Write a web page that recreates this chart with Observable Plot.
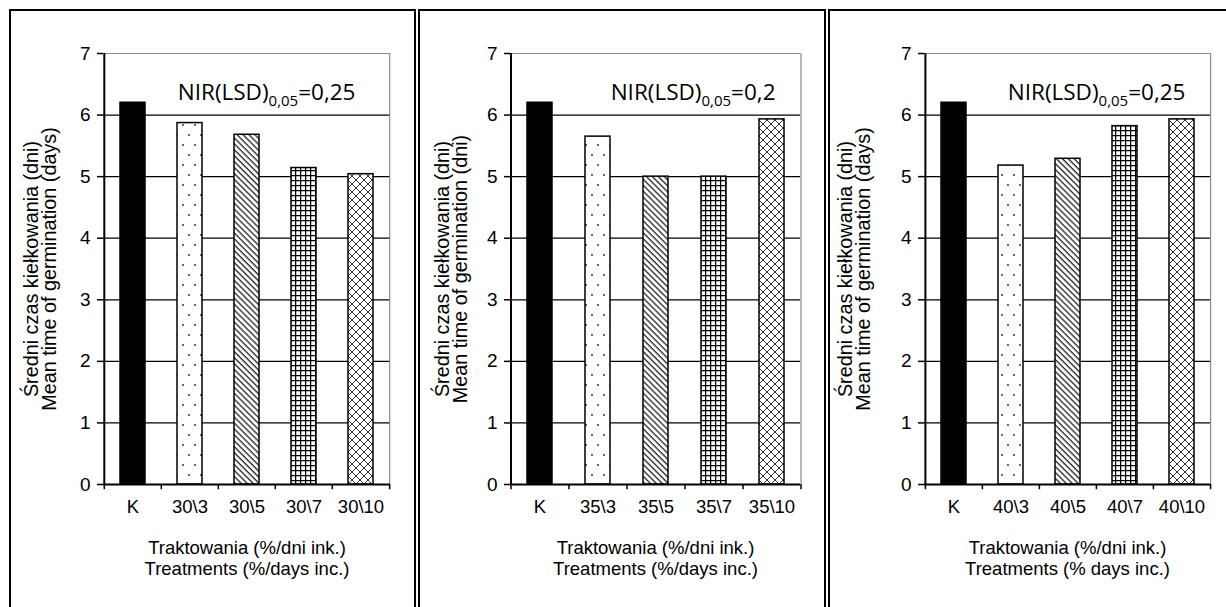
<!DOCTYPE html>
<html><head><meta charset="utf-8">
<script src="https://cdn.jsdelivr.net/npm/d3@7"></script>
<script src="https://cdn.jsdelivr.net/npm/@observablehq/plot@0.6"></script>
<style>
html,body{margin:0;padding:0;background:#fff;}
body{width:1226px;height:607px;overflow:hidden;position:relative;font-family:"Liberation Sans",Arial,sans-serif;}
.box{position:absolute;top:9px;height:640px;border:2px solid #000;box-sizing:border-box;}
.chart{position:absolute;top:0;}
</style></head><body>
<svg width="0" height="0" style="position:absolute">
<defs>
 <pattern id="pDots" width="12" height="20" patternUnits="userSpaceOnUse">
   <rect width="12" height="20" fill="#fff"/>
   <circle cx="3" cy="5" r="0.9" fill="#222"/>
   <circle cx="9" cy="15" r="0.9" fill="#222"/>
 </pattern>
 <pattern id="pDiag" width="4.2" height="4.2" patternUnits="userSpaceOnUse" patternTransform="rotate(-45)">
   <rect width="4.2" height="4.2" fill="#fff"/>
   <line x1="1" y1="0" x2="1" y2="4.2" stroke="#111" stroke-width="1.2"/>
 </pattern>
 <pattern id="pGrid" width="5" height="5" patternUnits="userSpaceOnUse">
   <rect width="5" height="5" fill="#fff"/>
   <path d="M0 0.6H5M0.6 0V5" stroke="#000" stroke-width="1.3"/>
 </pattern>
 <pattern id="pCross" width="8" height="8" patternUnits="userSpaceOnUse">
   <rect width="8" height="8" fill="#fff"/>
   <path d="M0 0L8 8M8 0L0 8" stroke="#333" stroke-width="1"/>
 </pattern>
</defs>
</svg>
<div class="box" style="left:9px;width:407px"></div>
<div class="box" style="left:418px;width:408px"></div>
<div class="box" style="left:828px;width:420px"></div>
<div id="c1" class="chart" style="left:0px"></div>
<div id="c2" class="chart" style="left:415px"></div>
<div id="c3" class="chart" style="left:825px"></div>
<script>
// ---- data ----
const labels1 = ["K", "30\\3", "30\\5", "30\\7", "30\\10"];
const values1 = [6.2, 5.87, 5.68, 5.14, 5.04];
const labels2 = ["K", "35\\3", "35\\5", "35\\7", "35\\10"];
const values2 = [6.2, 5.65, 5.0, 5.0, 5.93];
const labels3 = ["K", "40\\3", "40\\5", "40\\7", "40\\10"];
const values3 = [6.2, 5.18, 5.29, 5.82, 5.93];
const lsd = ["0,25", "0,2", "0,25"];
const yTicks = [0, 1, 2, 3, 4, 5, 6, 7];
const yTitleTop = "Średni czas kiełkowania (dni)";
const yTitleBottom = ["Mean time of germination (days)", "Mean time of germination (dni)", "Mean time of germination (days)"];
const xTitleTop = "Traktowania (%/dni ink.)";
const xTitleBottom = ["Treatments (%/days inc.)", "Treatments (%/days inc.)", "Treatments (% days inc.)"];

// ---- styles ----
const fills = ["#000", "url(#pDots)", "url(#pDiag)", "url(#pGrid)", "url(#pCross)"];
const layouts = [
  {id: "c1", width: 415, ml: 103, mr: 25, nirDx: -35, yTitleDx: -62},
  {id: "c2", width: 410, ml: 95, mr: 25, nirDx: -25, yTitleDx: -58},
  {id: "c3", width: 401, ml: 99, mr: 16, nirDx: -25, yTitleDx: -69}
];
const font = "'Liberation Sans', Arial, sans-serif";

function panel(k, labels, values) {
  const L = layouts[k];
  const mt = 53, mb = 123, H = 607;
  const data = labels.map((t, i) => ({t, v: values[i], f: fills[i]}));
  const step = (L.width - L.ml - L.mr) / labels.length;
  const last = labels[labels.length - 1];
  const svg = Plot.plot({
    width: L.width, height: H,
    marginLeft: L.ml, marginRight: L.mr, marginTop: mt, marginBottom: mb,
    style: {fontFamily: font, fontSize: "18.5px", color: "#000", background: "transparent", overflow: "visible"},
    x: {domain: labels, paddingInner: 0.57, paddingOuter: 0.285, axis: null},
    y: {domain: [0, 7], axis: null},
    color: {type: "identity"},
    marks: [
      Plot.ruleY(yTicks.filter(d => d > 0 && d < 7), {stroke: "#000", strokeWidth: 1.3}),
      Plot.ruleY([7], {stroke: "#8c8c8c", strokeWidth: 1.2}),
      Plot.ruleX([last], {dx: step / 2, y1: 0, y2: 7, stroke: "#8c8c8c", strokeWidth: 1.2}),
      Plot.barY(data, {x: "t", y: "v", fill: "f", stroke: "#000", strokeWidth: 1.5}),
      Plot.ruleY([0], {stroke: "#000", strokeWidth: 2}),
      Plot.ruleX([labels[0]], {dx: -step / 2, y1: 0, y2: 7, stroke: "#000", strokeWidth: 2}),
      Plot.ruleX(labels, {dx: -step / 2, y1: 0, y2: -0.085, stroke: "#000", strokeWidth: 1.5}),
      Plot.ruleX([last], {dx: step / 2, y1: 0, y2: -0.085, stroke: "#000", strokeWidth: 1.5}),
      Plot.axisY({ticks: yTicks, label: null, tickSize: 6, tickPadding: 7, fontSize: 19, stroke: "#000", strokeWidth: 1.5, tickFormat: d => String(d)}),
      Plot.axisX({label: null, tickSize: 0, tickPadding: 15, fontSize: 18.5}),
      Plot.text([lsd[k]], {frameAnchor: "top-right", text: d => "NIR(LSD)0,05=" + d, dx: L.nirDx, dy: 31,
        fontFamily: "'Open Sans', sans-serif", fontSize: 22.5, textAnchor: "end", lineAnchor: "top", fill: "#000"}),
      Plot.text([yTitleTop + "\n" + yTitleBottom[k]], {frameAnchor: "left", text: d => d, rotate: -90, dx: L.yTitleDx,
        textAnchor: "middle", lineAnchor: "middle", lineHeight: 0.92, fontSize: 19.8, fill: "#000"}),
      Plot.text([xTitleTop + "\n" + xTitleBottom[k]], {frameAnchor: "bottom", text: d => d, dy: 55,
        textAnchor: "middle", lineAnchor: "top", lineHeight: 1.13, fontSize: 18.5, fill: "#000"})
    ]
  });
  // subscript for the LSD annotation
  d3.select(svg).selectAll("text").each(function() {
    const t = this.textContent;
    if (t.startsWith("NIR(LSD)0,05=")) {
      const val = t.slice("NIR(LSD)0,05=".length);
      const sel = d3.select(this);
      sel.text(null);
      sel.append("tspan").text("NIR(LSD)");
      sel.append("tspan").attr("dy", 6).attr("font-size", 15).text("0,05");
      sel.append("tspan").attr("dy", -6).text("=" + val);
    }
  });
  document.getElementById(L.id).appendChild(svg);
}
panel(0, labels1, values1);
panel(1, labels2, values2);
panel(2, labels3, values3);
</script>
</body></html>
